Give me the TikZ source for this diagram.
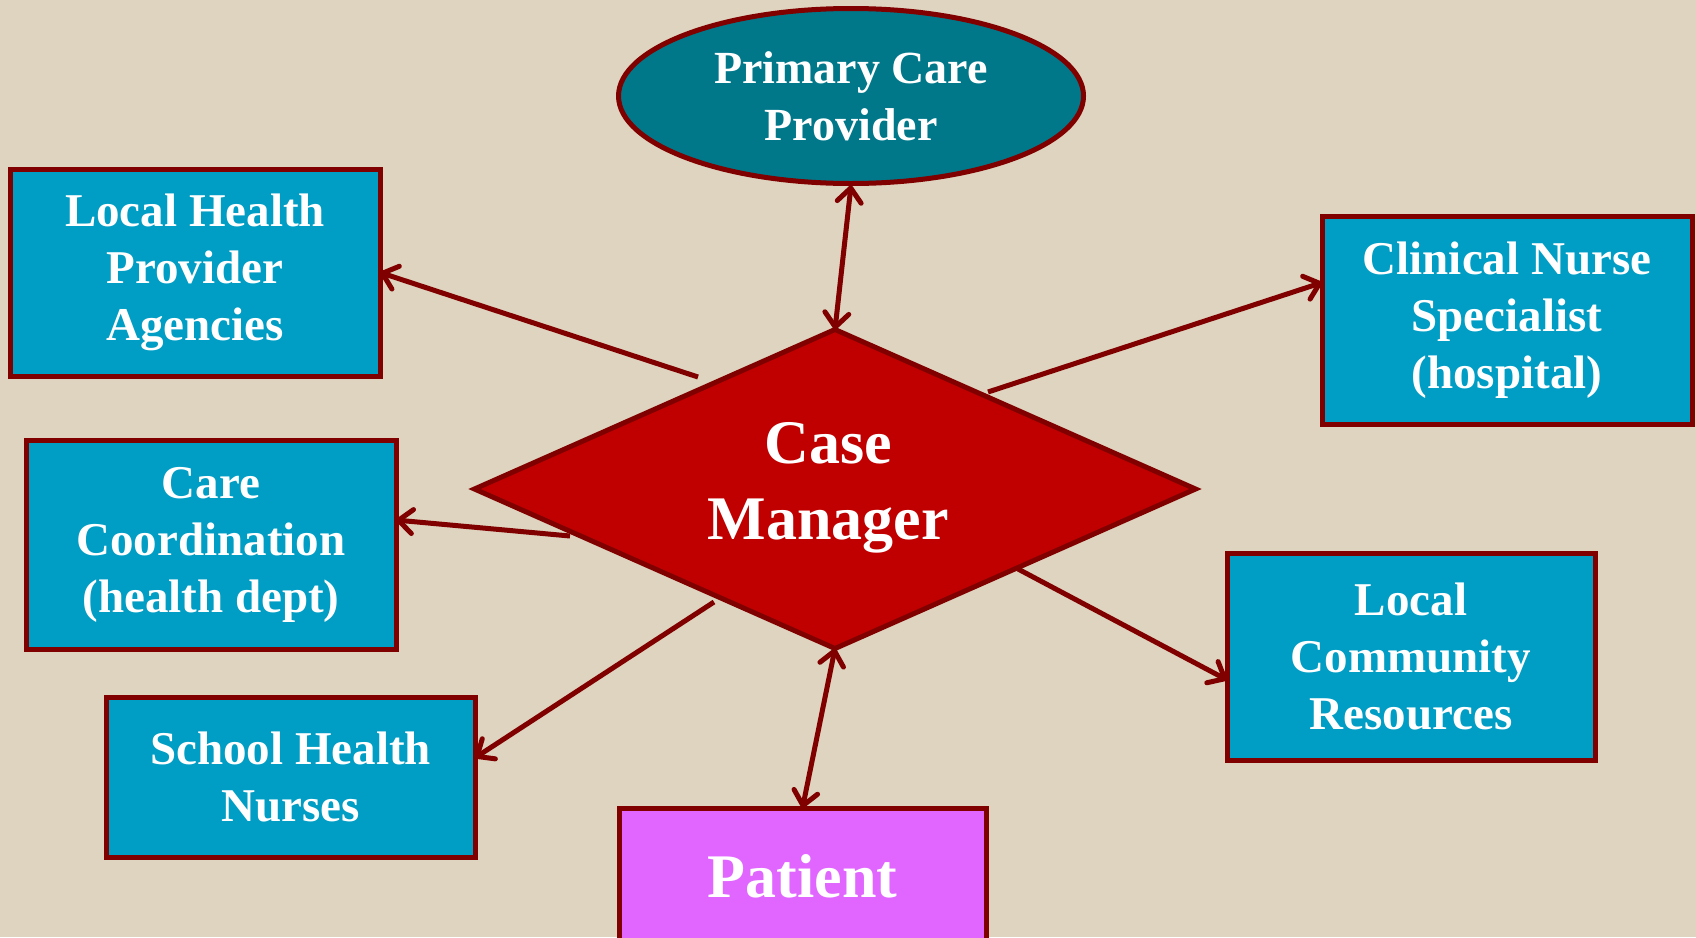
\documentclass[tikz,border=0pt]{standalone}
\usepackage{fontspec}
\setmainfont{Liberation Serif}
\usetikzlibrary{shapes.geometric,arrows.meta,calc}
\definecolor{bgbeige}{RGB}{222,212,191}
\definecolor{boxblue}{RGB}{0,157,196}
\definecolor{ovalteal}{RGB}{0,120,138}
\definecolor{cmred}{RGB}{192,0,0}
\definecolor{edgered}{RGB}{128,0,0}
\definecolor{patpink}{RGB}{224,102,255}
\tikzset{
  bluebox/.style={rectangle, draw=edgered, line width=5pt, fill=boxblue,
    text=white, font=\bfseries\fontsize{47}{57}\selectfont, align=center,
    inner sep=0pt, outer sep=0pt},
  barb/.tip={Straight Barb[length=14pt,width=24pt,line width=5pt,round]},
  conn/.style={draw=edgered, line width=5pt, -barb},
  bconn/.style={draw=edgered, line width=5pt, barb-barb},
}
\begin{document}
\begin{tikzpicture}[x=1pt,y=-1pt]
\useasboundingbox (0,0) rectangle (1696,937);
\fill[bgbeige] (0,0) rectangle (1696,937);
\begin{scope}
\clip (0,0) rectangle (1696,937);
% nodes
\node[ellipse, draw=edgered, line width=5pt, fill=ovalteal, text=white,
  font=\bfseries\fontsize{46}{57}\selectfont, align=center,
  minimum width=465pt, minimum height=175pt, inner sep=0pt, outer sep=0pt]
  (pcp) at (851,96) {Primary Care\\Provider};
\node[bluebox, minimum width=370pt, minimum height=207pt] (lhp) at (195,272.5) {Local Health\\Provider\\Agencies};
\node[bluebox, minimum width=370pt, minimum height=208pt] (cns) at (1507,320) {Clinical Nurse\\Specialist\\(hospital)};
\node[bluebox, minimum width=370pt, minimum height=209pt] (cc) at (211,544.5) {Care\\Coordination\\(health dept)};
\node[bluebox, minimum width=368pt, minimum height=207pt] (lcr) at (1411,656.5) {Local\\Community\\Resources};
\node[bluebox, minimum width=369pt, minimum height=160pt] (shn) at (290.5,777) {School Health\\Nurses};
\node[rectangle, draw=edgered, line width=5pt, fill=patpink, text=white,
  font=\bfseries\fontsize{62}{76}\selectfont, minimum width=367pt, minimum height=136pt,
  inner sep=0pt, outer sep=0pt] (pat) at (802.5,876) {\raisebox{-3pt}{Patient}};
\node[diamond, draw=edgered, line width=5pt, fill=cmred, minimum width=721pt,
  minimum height=319pt, inner sep=0pt, outer sep=0pt, aspect=2.26] (cm) at (835,489) {};
\node[text=white, font=\bfseries\fontsize{62}{76}\selectfont, align=center, inner sep=0pt]
  (cmlabel) at (828,487.5) {Case\\Manager};
% start points on the diamond
\coordinate (slhp) at ($(cm.center)+(-137,-112)$);
\coordinate (scns) at ($(cm.center)+(153,-97)$);
\coordinate (scc)  at ($(cm.center)+(-265,47)$);
\coordinate (sshn) at ($(cm.center)+(-121,113)$);
\coordinate (slcr) at ($(cm.center)+(183,80)$);
% connectors
\draw[bconn] (cm.north) -- ($(pcp.south)+(0,2)$);
\draw[bconn] (cm.south) -- (pat.north);
\draw[conn] (slhp) -- (lhp.east);
\draw[conn] (scns) -- ($(cns.north west)!0.32!(cns.south west)$);
\draw[conn] (scc) -- ($(cc.north east)!0.383!(cc.south east)$);
\draw[conn] (sshn) -- ($(shn.north east)!0.38!(shn.south east)$);
\draw[conn] (slcr) -- ($(lcr.north west)!0.613!(lcr.south west)$);
\end{scope}
\end{tikzpicture}
\end{document}
